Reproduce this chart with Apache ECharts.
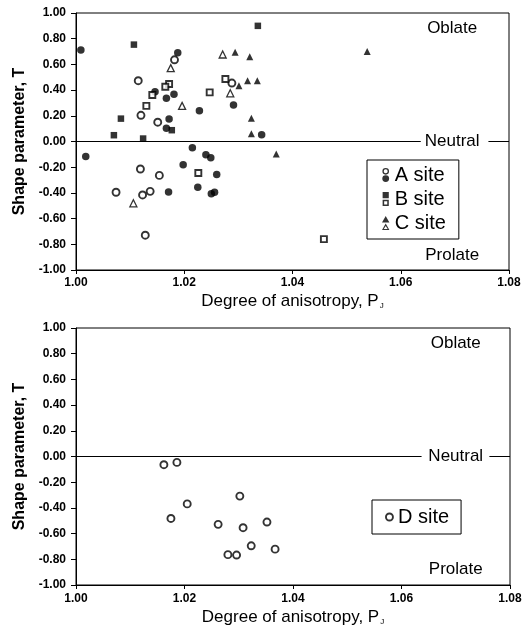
<!DOCTYPE html>
<html>
<head>
<meta charset="utf-8">
<script src="https://cdn.jsdelivr.net/npm/echarts@6/dist/echarts.min.js"></script>
<style>html,body{margin:0;padding:0;background:#fff}#c{width:530px;height:627px}</style>
</head>
<body>
<div id="c"></div>
<script>
// X: degree of anisotropy P_J, Y: shape parameter T
const aOpenX   = [1.0182,1.0115,1.0288,1.0120,1.0151,1.0119,1.0154,1.0074,1.0123,1.0137,1.0128];
const aOpenY   = [0.636,0.473,0.455,0.204,0.150,-0.214,-0.264,-0.395,-0.416,-0.388,-0.729];
const aFillX   = [1.0009,1.0188,1.0146,1.0167,1.0181,1.0291,1.0228,1.0172,1.0167,1.0343,1.0215,1.0018,1.0198,1.0240,1.0249,1.0260,1.0225,1.0250,1.0256,1.0171];
const aFillY   = [0.713,0.690,0.388,0.336,0.367,0.284,0.240,0.176,0.103,0.052,-0.049,-0.116,-0.181,-0.103,-0.127,-0.256,-0.356,-0.406,-0.395,-0.393];
const bFillX   = [1.0107,1.0336,1.0083,1.0177,1.0070,1.0124];
const bFillY   = [0.754,0.900,0.178,0.088,0.049,0.023];
const bOpenX   = [1.0172,1.0165,1.0141,1.0130,1.0247,1.0276,1.0226,1.0458];
const bOpenY   = [0.447,0.426,0.362,0.277,0.382,0.486,-0.245,-0.760];
const cFillX   = [1.0294,1.0321,1.0301,1.0317,1.0335,1.0324,1.0324,1.0370,1.0538];
const cFillY   = [0.695,0.659,0.434,0.473,0.473,0.181,0.060,-0.098,0.700];
const cOpenX   = [1.0175,1.0271,1.0196,1.0285,1.0106];
const cOpenY   = [0.571,0.677,0.277,0.375,-0.481];
const dX       = [1.0162,1.0186,1.0302,1.0205,1.0175,1.0262,1.0308,1.0352,1.0323,1.0280,1.0296,1.0367];
const dY       = [-0.064,-0.046,-0.308,-0.369,-0.482,-0.528,-0.554,-0.510,-0.695,-0.764,-0.767,-0.721];
const siteNames = ['A site','B site','C site','D site'];
const regionNames = ['Oblate','Neutral','Prolate'];
const xTickMin = 1.00, xTickMax = 1.08, xTickStep = 0.02;
const yTickMin = -1.00, yTickMax = 1.00, yTickStep = 0.20;

const FONT = '"Liberation Sans", Arial, Helvetica, sans-serif';
const pts = (xs, ys) => xs.map((x, i) => [x, ys[i]]);
const fmt = v => (Math.abs(v) < 1e-9 ? 0 : v).toFixed(2);

function xAx(gi, gap, margin) {
  return {
    type: 'value', gridIndex: gi, min: xTickMin, max: xTickMax, interval: xTickStep,
    axisLine: { onZero: false, lineStyle: { color: '#000', width: 1 } },
    axisTick: { inside: false, length: 4, lineStyle: { color: '#000' } },
    splitLine: { show: false },
    axisLabel: { color: '#000', fontSize: 12, fontWeight: 'bold', fontFamily: FONT, margin: margin, formatter: fmt },
    name: 'Degree of anisotropy, P{sub|J}', nameLocation: 'middle', nameGap: gap,
    nameTextStyle: { color: '#000', fontSize: 17, fontFamily: FONT,
      rich: { sub: { fontSize: 8, fontFamily: FONT, color: '#000', padding: [10, 0, 0, 1] } } }
  };
}
function yAx(gi) {
  return {
    type: 'value', gridIndex: gi, min: yTickMin, max: yTickMax, interval: yTickStep,
    axisLine: { onZero: false, lineStyle: { color: '#000', width: 1 } },
    axisTick: { inside: false, length: 5, lineStyle: { color: '#000' } },
    splitLine: { show: false },
    axisLabel: { color: '#000', fontSize: 12, fontWeight: 'bold', fontFamily: FONT, margin: 10, formatter: fmt },
    name: 'Shape parameter, T', nameLocation: 'middle', nameGap: 40,
    nameTextStyle: { color: '#000', fontSize: 16, fontWeight: 'bold', fontFamily: FONT }
  };
}
const openStyle = { color: '#fff', borderColor: '#000', borderWidth: 1.9 };
const fillStyle = { color: '#000', borderWidth: 0 };

function annotations(yO, yP, xc) {
  return {
    markLine: {
      silent: true, symbol: 'none', label: { show: false },
      lineStyle: { color: '#000', width: 1, type: 'solid' },
      data: [
        [{ coord: [xTickMin, 0] }, { coord: [1.0637, 0] }],
        [{ coord: [1.0762, 0] }, { coord: [xTickMax, 0] }]
      ]
    },
    markPoint: {
      silent: true, symbol: 'circle', symbolSize: 0,
      label: { show: true, position: 'inside', formatter: '{b}', color: '#000', fontSize: 17, fontFamily: FONT },
      data: [
        { name: regionNames[0], coord: [xc, yO] },
        { name: regionNames[1], coord: [xc, 0] },
        { name: regionNames[2], coord: [xc, yP] }
      ]
    }
  };
}

const iconA = 'path://M4,0.3A3.2,3.2,0,1,1,4,6.7A3.2,3.2,0,1,1,4,0.3ZM4,1.6A1.9,1.9,0,1,0,4,5.4A1.9,1.9,0,1,0,4,1.6ZM4,7.2A3.3,3.3,0,1,1,4,13.8A3.3,3.3,0,1,1,4,7.2Z';
const iconB = 'path://M1,0H7V6H1ZM1,7.6H7V13.6H1ZM2.5,9.1V12.1H5.5V9.1Z';
const iconC = 'path://M4,0L7.6,6.2L0.4,6.2ZM4,7.4L7.6,13.6L0.4,13.6ZM4,9.8L2.1,12.6L5.9,12.6Z';

const chart = echarts.init(document.getElementById('c'), null, { renderer: 'canvas' });
chart.setOption({
  backgroundColor: '#fff',
  animation: false,
  textStyle: { fontFamily: FONT },
  grid: [
    { left: 76, right: 21, top: 13, height: 257, show: true, borderColor: '#000', borderWidth: 1, backgroundColor: 'transparent' },
    { left: 76, right: 20, top: 328, height: 258, show: true, borderColor: '#000', borderWidth: 1, backgroundColor: 'transparent' }
  ],
  xAxis: [xAx(0, 22, 7), xAx(1, 23, 8)],
  yAxis: [yAx(0), yAx(1)],
  legend: [
    {
      selectedMode: false, orient: 'vertical', left: 367, top: 160,
      backgroundColor: '#fff', borderColor: '#000', borderWidth: 1,
      padding: [5, 13, 6, 15], itemGap: 4, itemWidth: 8, itemHeight: 14,
      textStyle: { color: '#000', fontSize: 20, fontFamily: FONT },
      data: [
        { name: siteNames[0], icon: iconA, itemStyle: fillStyle },
        { name: siteNames[1], icon: iconB, itemStyle: fillStyle },
        { name: siteNames[2], icon: iconC, itemStyle: fillStyle }
      ]
    },
    {
      selectedMode: false, orient: 'vertical', left: 372, top: 500,
      backgroundColor: '#fff', borderColor: '#000', borderWidth: 1,
      padding: [7, 12, 7, 13], itemWidth: 7, itemHeight: 7,
      textStyle: { color: '#000', fontSize: 20, fontFamily: FONT },
      data: [{ name: siteNames[3], icon: 'circle', itemStyle: openStyle }]
    }
  ],
  series: [
    Object.assign({ type: 'scatter', name: siteNames[0], xAxisIndex: 0, yAxisIndex: 0, symbol: 'circle', symbolSize: 7, itemStyle: openStyle, data: pts(aOpenX, aOpenY) }, annotations(0.884, -0.884, 1.0695)),
    { type: 'scatter', name: siteNames[0], xAxisIndex: 0, yAxisIndex: 0, symbol: 'circle', symbolSize: 7.5, itemStyle: fillStyle, data: pts(aFillX, aFillY) },
    { type: 'scatter', name: siteNames[1], xAxisIndex: 0, yAxisIndex: 0, symbol: 'rect', symbolSize: 6.5, itemStyle: fillStyle, data: pts(bFillX, bFillY) },
    { type: 'scatter', name: siteNames[1], xAxisIndex: 0, yAxisIndex: 0, symbol: 'rect', symbolSize: 6, itemStyle: openStyle, data: pts(bOpenX, bOpenY) },
    { type: 'scatter', name: siteNames[2], xAxisIndex: 0, yAxisIndex: 0, symbol: 'triangle', symbolSize: 7, itemStyle: fillStyle, data: pts(cFillX, cFillY) },
    { type: 'scatter', name: siteNames[2], xAxisIndex: 0, yAxisIndex: 0, symbol: 'triangle', symbolSize: 7, itemStyle: { color: '#fff', borderColor: '#000', borderWidth: 1.3 }, data: pts(cOpenX, cOpenY) },
    Object.assign({ type: 'scatter', name: siteNames[3], xAxisIndex: 1, yAxisIndex: 1, symbol: 'circle', symbolSize: 7, itemStyle: openStyle, data: pts(dX, dY) }, annotations(0.877, -0.875, 1.0700))
  ]
});
</script>
</body>
</html>
